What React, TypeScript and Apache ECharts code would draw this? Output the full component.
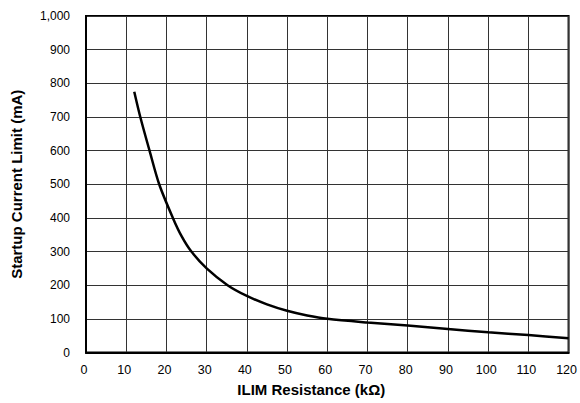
import React, { useEffect, useRef } from "react";
import * as echarts from "echarts";

const resistanceK = [12, 13.5, 15.8, 18.2, 21.6, 23.8, 26.2, 30, 35.2, 40, 45, 50, 55, 60, 70, 80, 90, 100, 110, 120];
const currentMA = [775, 700, 600, 500, 400, 345, 300, 250, 200, 168, 143, 124, 110, 100, 89, 80, 70, 60, 52, 42];

const xTitle = "ILIM Resistance (kΩ)";
const yTitle = "Startup Current Limit (mA)";

const FONT = "'Liberation Sans', Arial, sans-serif";

export default function App() {
  const ref = useRef<HTMLDivElement>(null);
  useEffect(() => {
    if (!ref.current) return;
    const chart = echarts.init(ref.current, undefined, { renderer: "svg" });
    const data = resistanceK.map((x, i) => [x, currentMA[i]]);
    chart.setOption({
      animation: false,
      backgroundColor: "#fff",
      grid: {
        left: 86,
        right: 9,
        top: 16,
        bottom: 50.5,
        show: true,
        borderColor: "#000",
        borderWidth: 2,
        backgroundColor: "transparent",
      },
      xAxis: {
        type: "value",
        min: 0,
        max: 120,
        interval: 10,
        name: xTitle,
        nameLocation: "middle",
        nameGap: 29,
        nameTextStyle: {
          fontFamily: FONT,
          fontSize: 15,
          fontWeight: "bold",
          color: "#000",
          padding: [0, 32, 0, 0],
        },
        axisLine: { show: true, lineStyle: { color: "#000", width: 2 } },
        axisTick: { show: false },
        axisLabel: { fontFamily: FONT, fontSize: 12.5, color: "#000", margin: 11, padding: [0, 4, 0, 0] },
        splitLine: { show: true, lineStyle: { color: "#333", width: 1 } },
      },
      yAxis: {
        type: "value",
        min: 0,
        max: 1000,
        interval: 100,
        name: yTitle,
        nameLocation: "middle",
        nameGap: 62,
        nameTextStyle: { fontFamily: FONT, fontSize: 15, fontWeight: "bold", color: "#000" },
        axisLine: { show: true, lineStyle: { color: "#000", width: 2 } },
        axisTick: { show: false },
        axisLabel: {
          fontFamily: FONT,
          fontSize: 12,
          color: "#000",
          margin: 16,
          formatter: (v: number) => v.toLocaleString("en-US"),
        },
        splitLine: { show: true, lineStyle: { color: "#333", width: 1 } },
      },
      series: [
        {
          type: "line",
          data,
          smooth: 0.3,
          showSymbol: false,
          lineStyle: { color: "#000", width: 2.5 },
        },
      ],
    });
    return () => chart.dispose();
  }, []);
  return <div ref={ref} style={{ position: "absolute", left: 0, top: 0, width: 580, height: 403 }} />;
}
